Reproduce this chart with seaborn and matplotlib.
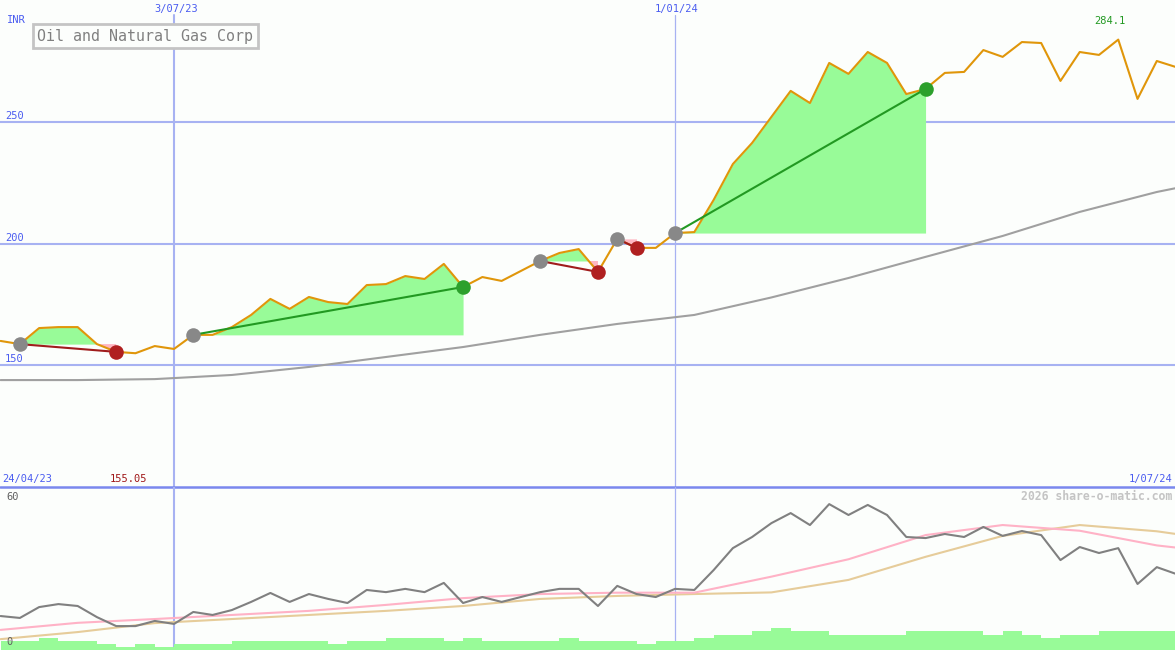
import numpy as np
import pandas as pd
import matplotlib
matplotlib.use("Agg")
import matplotlib.pyplot as plt
import seaborn as sns

# ---------------- data ----------------
start_date = "2023-05-01"
price = [160.1, 158.8, 165.4, 165.8, 165.8, 158.8, 155.6, 155.05, 158.0, 156.8,
         162.6, 162.6, 165.8, 170.8, 177.4, 173.3, 178.2, 176.1, 175.3, 183.1,
         183.5, 186.8, 185.6, 191.8, 182.3, 186.4, 184.8, 188.9, 193.0, 196.3,
         197.9, 188.5, 202.1, 198.4, 198.4, 204.5, 204.9, 218.1, 232.9, 241.6,
         252.3, 263.0, 258.0, 274.5, 270.0, 279.0, 274.5, 261.7, 263.8, 270.4,
         270.8, 279.8, 277.0, 283.1, 282.7, 267.1, 279.0, 277.8, 284.1, 259.7,
         275.3, 272.8]
oscillator = [12.5, 11.8, 15.8, 16.9, 16.2, 12.1, 8.8, 8.8, 10.7, 9.6,
              14.0, 12.9, 14.7, 17.7, 21.0, 17.7, 20.6, 18.8, 17.3, 22.1,
              21.3, 22.5, 21.3, 24.7, 17.3, 19.5, 17.7, 19.5, 21.3, 22.5,
              22.5, 16.2, 23.6, 20.6, 19.5, 22.5, 22.1, 29.4, 37.5, 41.6,
              46.7, 50.4, 46.0, 53.7, 49.7, 53.4, 49.7, 41.6, 41.2, 42.7,
              41.6, 45.3, 42.0, 43.8, 42.3, 33.1, 37.9, 35.7, 37.5, 24.3,
              30.5, 28.0]
volume = [3.3, 3.3, 4.4, 3.3, 3.3, 2.2, 1.1, 2.2, 1.1, 2.2,
          2.2, 2.2, 3.3, 3.3, 3.3, 3.3, 3.3, 2.2, 3.3, 3.3,
          4.4, 4.4, 4.4, 3.3, 4.4, 3.3, 3.3, 3.3, 3.3, 4.4,
          3.3, 3.3, 3.3, 2.2, 3.3, 3.3, 4.4, 5.5, 5.5, 7.0,
          8.1, 7.0, 7.0, 5.5, 5.5, 5.5, 5.5, 7.0, 7.0, 7.0,
          7.0, 5.5, 7.0, 5.5, 4.4, 5.5, 5.5, 7.0, 7.0, 7.0,
          7.0, 7.0]
# smooth averages sampled every 4 weeks (week index)
avg_weeks = [0, 4, 8, 12, 16, 20, 24, 28, 32, 36, 40, 44, 48, 52, 56, 60, 61]
long_avg = [144.0, 144.0, 144.4, 146.1, 149.4, 153.5, 157.6, 162.6, 167.1, 170.8,
            178.0, 186.0, 194.7, 203.3, 213.2, 221.4, 223.0]
pink_avg = [7.4, 10.0, 11.4, 12.9, 14.4, 16.6, 19.1, 20.6, 21.1, 21.1,
            27.0, 33.4, 42.3, 46.0, 43.9, 38.5, 37.7]
tan_avg = [4.0, 6.6, 9.9, 11.4, 12.9, 14.4, 16.2, 18.8, 19.9, 20.6,
           21.2, 25.8, 34.3, 42.0, 46.0, 43.7, 42.7]
# trades: (entry week, exit week)
trade_entry = [1, 10, 28, 32, 35]
trade_exit = [6, 24, 31, 33, 48]

top_ticks = [150, 200, 250]
date_lines = ["2023-07-03", "2024-01-01"]
date_labels = ["3/07/23", "1/01/24"]
title = "Oil and Natural Gas Corp"

# ---------------- setup ----------------
W, H = 1175, 650
sns.set_style("white")
plt.rcParams["font.family"] = ["DejaVu Sans Mono", "DejaVu Sans"]

dates = pd.date_range(start_date, periods=len(price), freq="7D")
df = pd.DataFrame({"date": dates, "price": price, "osc": oscillator, "vol": volume})
avg_dates = dates[avg_weeks]
adf = pd.DataFrame({"date": avg_dates, "long": long_avg, "pink": pink_avg, "tan": tan_avg})

BG = "#fcfefc"
GRID = "#a7b2f2"
SEP = "#7a88ee"
BLUE_TXT = "#4a5cf0"

fig = plt.figure(figsize=(W / 100, H / 100), dpi=100, facecolor=BG)
sep_y = 487
ax = fig.add_axes([0, (H - sep_y) / H, 1, sep_y / H])
axb = fig.add_axes([0, 0, 1, (H - sep_y) / H])
for a in (ax, axb):
    a.set_facecolor(BG)
    a.set_axis_off()

day_px = 19.27 / 7.0
x0 = dates[0] - pd.Timedelta(days=0.6 / day_px)
x1 = x0 + pd.Timedelta(days=W / day_px)
ax.set_xlim(x0, x1)
axb.set_xlim(x0, x1)
ax.set_ylim(100, 300.4)
axb.set_ylim(0, 60)

# grid lines
for t in top_ticks:
    ax.axhline(t, color=GRID, lw=1.5, zorder=1)
for d in date_lines:
    lw = 1.5 if d == date_lines[0] else 0.9
    ax.axvline(pd.Timestamp(d), ymin=0, ymax=1 - 15 / sep_y, color=GRID,
               lw=lw, zorder=1)
    axb.axvline(pd.Timestamp(d), color=GRID, lw=lw, zorder=1)
ax.axhline(100.0, color=SEP, lw=1.8, zorder=6, clip_on=False)

# trade fills
parr = np.array(price)
for e, x in zip(trade_entry, trade_exit):
    seg_d = dates[e:x + 1]
    seg_p = parr[e:x + 1]
    lvl = parr[e]
    ax.fill_between(seg_d, seg_p, lvl, where=seg_p >= lvl, interpolate=True,
                    color="#98fb98", lw=0, zorder=2)
    ax.fill_between(seg_d, seg_p, lvl, where=seg_p <= lvl, interpolate=True,
                    color="#ffb6c1", lw=0, zorder=2)

# long average
sns.lineplot(data=adf, x="date", y="long", ax=ax, color="#a0a0a0", lw=1.5,
             estimator=None, zorder=3, legend=False)
# price
sns.lineplot(data=df, x="date", y="price", ax=ax, color="#e0960a", lw=1.5,
             estimator=None, zorder=4, legend=False)

# trade lines and dots
for e, x in zip(trade_entry, trade_exit):
    win = parr[x] > parr[e]
    lc = "#229922" if win else "#a01c1c"
    tdf = pd.DataFrame({"date": [dates[e], dates[x]], "p": [parr[e], parr[x]]})
    sns.lineplot(data=tdf, x="date", y="p", ax=ax, color=lc, lw=1.5,
                 estimator=None, zorder=5, legend=False)
    sns.scatterplot(x=[dates[e]], y=[parr[e]], ax=ax, color="#888888", s=110,
                    linewidth=0, zorder=6, legend=False)
    sns.scatterplot(x=[dates[x]], y=[parr[x]], ax=ax,
                    color="#2ca02c" if win else "#b02020", s=110,
                    linewidth=0, zorder=6, legend=False)
ax.set_xlabel("")
ax.set_ylabel("")

# bottom panel
axb.bar(df["date"], df["vol"], width=7, align="edge", color="#98fb98",
        lw=0, zorder=2)
sns.lineplot(data=adf, x="date", y="tan", ax=axb, color="#e6cc9a", lw=1.5,
             estimator=None, zorder=3, legend=False)
sns.lineplot(data=adf, x="date", y="pink", ax=axb, color="#ffb2c6", lw=1.5,
             estimator=None, zorder=3, legend=False)
sns.lineplot(data=df, x="date", y="osc", ax=axb, color="#808080", lw=1.5,
             estimator=None, zorder=4, legend=False)
axb.set_xlabel("")
axb.set_ylabel("")


# ---------------- text ----------------
def fp(x, y):
    return x / W, 1 - y / H


fig.text(*fp(7, 20), "INR", color=BLUE_TXT, fontsize=7.5, ha="left", va="center")
for t in top_ticks:
    ypx = sep_y - (t - 100) / 200.4 * sep_y
    fig.text(*fp(5, ypx - 6), str(t), color=BLUE_TXT, fontsize=7.5,
             ha="left", va="center")
for d, lab in zip(date_lines, date_labels):
    xpx = (pd.Timestamp(d) - x0) / pd.Timedelta(days=1) * day_px
    fig.text(*fp(xpx + 2, 9), lab, color=BLUE_TXT, fontsize=7.5, ha="center", va="center")
fig.text(*fp(2, 479), "24/04/23", color=BLUE_TXT, fontsize=7.5, ha="left", va="center")
fig.text(*fp(1172, 479), "1/07/24", color=BLUE_TXT, fontsize=7.5, ha="right", va="center")
fig.text(*fp(110, 479), f"{min(price):.2f}", color="#a01818", fontsize=7.5,
         ha="left", va="center")
fig.text(*fp(1110, 21), f"{max(price):.1f}", color="#229922", fontsize=7.5,
         ha="center", va="center")
fig.text(*fp(6, 497), "60", color="#606060", fontsize=7.5, ha="left", va="center")
fig.text(*fp(6, 642), "0", color="#606060", fontsize=7.5, ha="left", va="center")
fig.text(*fp(1172, 496), "2026 share-o-matic.com", color="#c4c4c4", fontsize=8.3,
         fontweight="bold", ha="right", va="center")
fig.text(*fp(37, 36), title, color="#808080", fontsize=10.8, ha="left", va="center",
         bbox=dict(boxstyle="square,pad=0.3", facecolor=BG, edgecolor="#c4c4c4", lw=2))

fig.savefig("out.png", dpi=100, facecolor=BG)
